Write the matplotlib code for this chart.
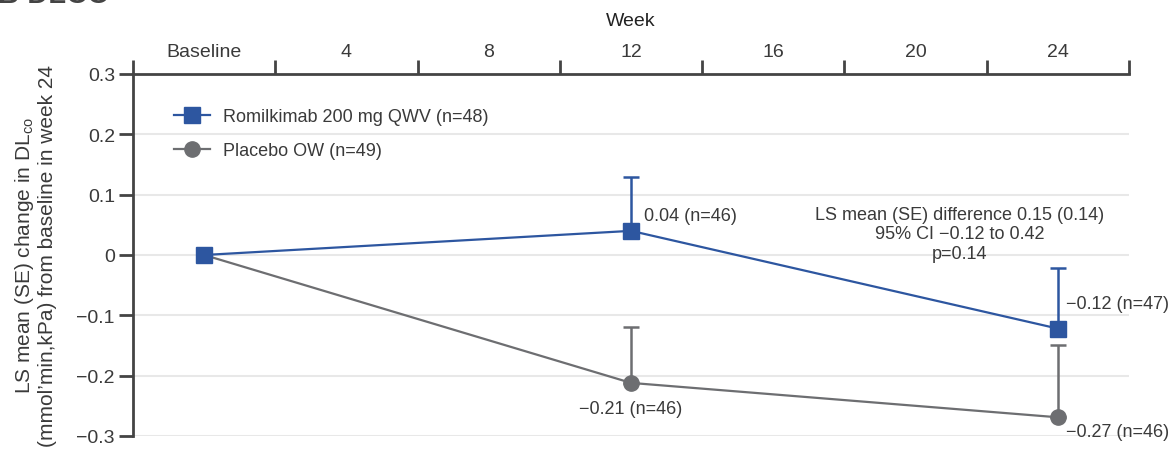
import numpy as np
from matplotlib import pyplot as plt

# data
weeks = ['Baseline', '4', '8', '12', '16', '20', '24']
visit_idx = [0, 3, 6]

romi_mean = [0.0, 0.04, -0.122]
romi_se = [0.0, 0.09, 0.10]
romi_labels = ['', '0.04 (n=46)', '\u22120.12 (n=47)']

plac_mean = [0.0, -0.212, -0.269]
plac_se = [0.0, 0.092, 0.119]
plac_labels = ['', '\u22120.21 (n=46)', '\u22120.27 (n=46)']

yticks = [0.3, 0.2, 0.1, 0, -0.1, -0.2, -0.3]

blue = '#2d56a0'
grey = '#6d6e71'
txt = '#3a3a3a'

plt.rcParams['font.family'] = ['Liberation Sans', 'DejaVu Sans']
plt.rcParams['axes.unicode_minus'] = True

fig = plt.figure(figsize=(11.7, 4.6), dpi=100)
ax = fig.add_axes([0.1137, 0.05, 0.8513, 0.787])

for y in yticks:
    ax.axhline(y, color='#e8e8e8', lw=1.5, zorder=0)

# error bars (upper only)
ax.errorbar(visit_idx[1:], romi_mean[1:], yerr=[np.zeros(2), romi_se[1:]],
            fmt='none', ecolor=blue, elinewidth=1.8, capsize=6, capthick=1.8, zorder=2)
ax.errorbar(visit_idx[1:], plac_mean[1:], yerr=[np.zeros(2), plac_se[1:]],
            fmt='none', ecolor=grey, elinewidth=1.8, capsize=6, capthick=1.8, zorder=2)

ax.plot(visit_idx, plac_mean, color=grey, lw=1.6, marker='o', ms=11,
        label='Placebo OW (n=49)', zorder=3)
ax.plot(visit_idx, romi_mean, color=blue, lw=1.6, marker='s', ms=11,
        label='Romilkimab 200 mg QWV (n=48)', zorder=4)

fs = 14
ax.annotate(romi_labels[1], (visit_idx[1], romi_mean[1]), xytext=(9, 5),
            textcoords='offset points', fontsize=fs - 1, color=txt, va='bottom')
ax.annotate(romi_labels[2], (visit_idx[2], romi_mean[2]), xytext=(6, 12),
            textcoords='offset points', fontsize=fs - 1, color=txt, va='bottom')
ax.annotate(plac_labels[1], (visit_idx[1], plac_mean[1]), xytext=(0, -12),
            textcoords='offset points', fontsize=fs - 1, color=txt, va='top', ha='center')
ax.annotate(plac_labels[2], (visit_idx[2], plac_mean[2]), xytext=(6, -4),
            textcoords='offset points', fontsize=fs - 1, color=txt, va='top')

ax.text(5.31, 0.082, 'LS mean (SE) difference 0.15 (0.14)\n95% CI \u22120.12 to 0.42\np=0.14',
        ha='center', va='top', fontsize=fs - 1, color=txt, linespacing=1.2)

ax.set_xlim(-0.5, 6.5)
ax.set_ylim(-0.3, 0.3)

# top axis with week labels
ax.xaxis.tick_top()
ax.set_xticks(range(len(weeks)))
ax.set_xticklabels(weeks, fontsize=fs, color=txt)
ax.set_xticks(np.arange(-0.5, 7, 1), minor=True)
ax.tick_params(axis='x', which='major', length=0, pad=10)
ax.tick_params(axis='x', which='minor', length=10, width=2, color='#444444', direction='out')
ax.xaxis.set_label_position('top')
ax.set_xlabel('Week', fontsize=fs, color='#222222', labelpad=13)

ax.set_yticks(yticks)
ax.set_yticklabels(['0.3', '0.2', '0.1', '0', '\u22120.1', '\u22120.2', '\u22120.3'])
ax.tick_params(axis='y', length=10, width=2, color='#444444', labelsize=fs, labelcolor=txt, pad=3)
ax.set_ylabel('LS mean (SE) change in DL$_{\\mathregular{co}}$\n(mmol\u2019min,kPa) from baseline in week 24',
              fontsize=15, color=txt, labelpad=14, linespacing=1.15)

for s in ['right', 'bottom']:
    ax.spines[s].set_visible(False)
for s in ['left', 'top']:
    ax.spines[s].set_color('#444444')
    ax.spines[s].set_linewidth(2)

handles, labels = ax.get_legend_handles_labels()
leg = ax.legend(handles[::-1], labels[::-1], loc='upper left', bbox_to_anchor=(0.025, 0.95),
                frameon=False, fontsize=fs - 1, handlelength=2.0, labelspacing=0.95,
                handletextpad=0.7)
for t in leg.get_texts():
    t.set_color(txt)

# panel title, clipped by the top edge
fig.text(-0.002, 0.994, 'B DLCO', fontsize=21, fontweight='bold', color='#444444', va='baseline')

fig.savefig('out.png', dpi=100)
